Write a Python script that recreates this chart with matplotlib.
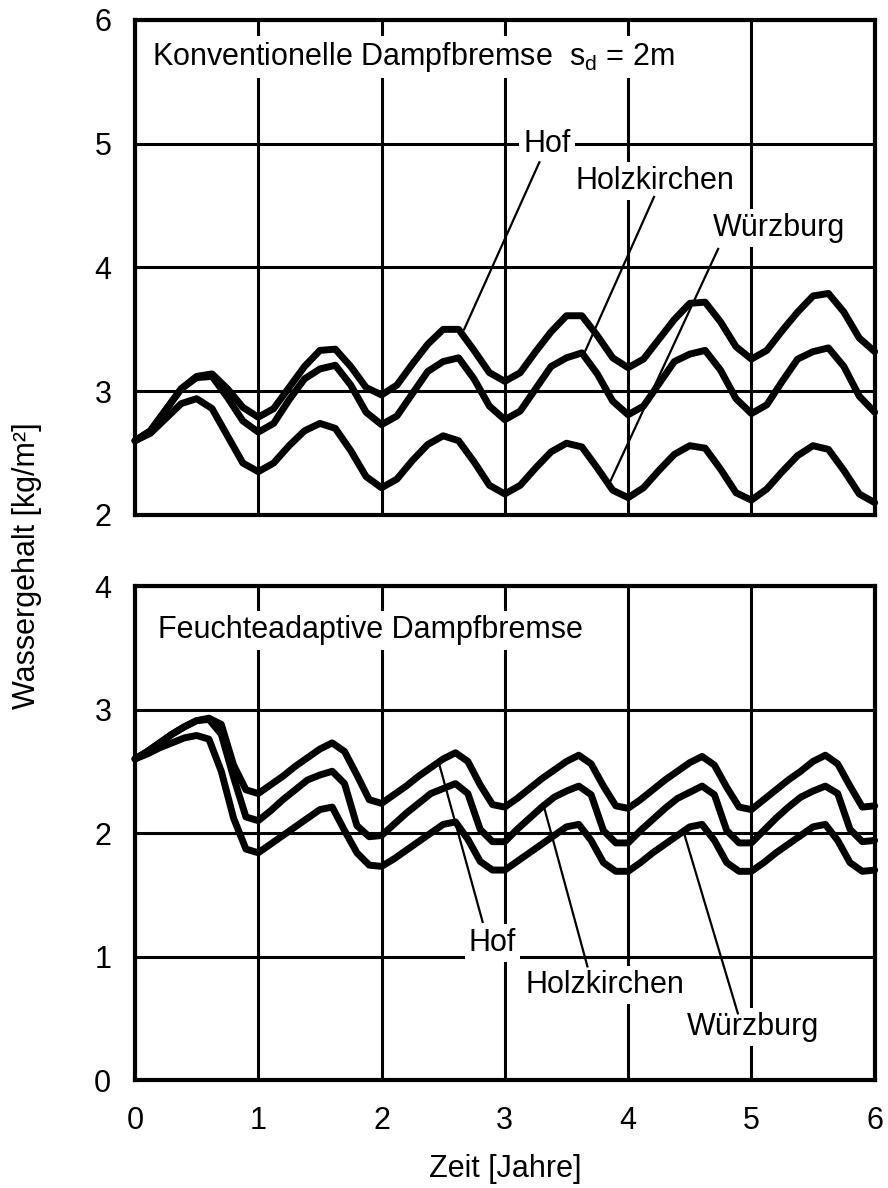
import numpy as np
import matplotlib
matplotlib.use("Agg")
import matplotlib.pyplot as plt

plt.rcParams['font.family'] = ['Liberation Sans', 'DejaVu Sans']
plt.rcParams['mathtext.default'] = 'regular'

# time axis (years)
t_top = np.linspace(0, 6, 49)   # 1/8 year steps
t_bot = np.linspace(0, 6, 61)   # 1/10 year steps

# conventional vapour retarder, sd = 2 m  [kg/m2]
top_hof = [2.60, 2.68, 2.85, 3.02, 3.12, 3.14, 3.02, 2.87,
           2.79, 2.86, 3.03, 3.20, 3.33, 3.34, 3.20, 3.03,
           2.97, 3.05, 3.22, 3.38, 3.50, 3.50, 3.33, 3.15,
           3.08, 3.15, 3.32, 3.48, 3.61, 3.61, 3.45, 3.27,
           3.19, 3.26, 3.42, 3.58, 3.71, 3.72, 3.56, 3.36,
           3.26, 3.33, 3.49, 3.64, 3.77, 3.79, 3.64, 3.43,
           3.32]
top_holz = [2.60, 2.68, 2.85, 3.02, 3.11, 3.12, 2.95, 2.76,
            2.67, 2.74, 2.93, 3.10, 3.18, 3.21, 3.05, 2.83,
            2.73, 2.80, 2.98, 3.16, 3.24, 3.27, 3.10, 2.88,
            2.77, 2.84, 3.02, 3.20, 3.27, 3.31, 3.14, 2.92,
            2.81, 2.88, 3.06, 3.24, 3.30, 3.33, 3.17, 2.94,
            2.82, 2.89, 3.08, 3.26, 3.32, 3.35, 3.20, 2.96,
            2.83]
top_wue = [2.60, 2.66, 2.78, 2.90, 2.94, 2.86, 2.64, 2.42,
           2.35, 2.42, 2.56, 2.68, 2.74, 2.70, 2.52, 2.31,
           2.22, 2.29, 2.44, 2.57, 2.64, 2.60, 2.43, 2.24,
           2.17, 2.24, 2.38, 2.51, 2.58, 2.55, 2.38, 2.20,
           2.14, 2.22, 2.36, 2.49, 2.56, 2.54, 2.37, 2.18,
           2.12, 2.21, 2.35, 2.48, 2.56, 2.53, 2.36, 2.17,
           2.10]

# humidity-variable vapour retarder  [kg/m2]
bot_hof = [2.60, 2.66, 2.73, 2.80, 2.86, 2.91, 2.93, 2.88, 2.55, 2.35,
           2.32, 2.39, 2.46, 2.54, 2.61, 2.68, 2.73, 2.66, 2.47, 2.27,
           2.24, 2.31, 2.38, 2.46, 2.53, 2.60, 2.65, 2.58, 2.39, 2.23,
           2.21, 2.28, 2.36, 2.44, 2.51, 2.58, 2.63, 2.56, 2.38, 2.22,
           2.20, 2.27, 2.35, 2.43, 2.50, 2.57, 2.62, 2.55, 2.37, 2.21,
           2.19, 2.27, 2.35, 2.43, 2.50, 2.58, 2.63, 2.56, 2.38, 2.21,
           2.22]
bot_holz = [2.60, 2.66, 2.73, 2.80, 2.86, 2.91, 2.92, 2.80, 2.45, 2.13,
            2.10, 2.18, 2.27, 2.35, 2.43, 2.47, 2.50, 2.40, 2.06, 1.97,
            1.98, 2.07, 2.16, 2.24, 2.32, 2.36, 2.40, 2.32, 2.03, 1.93,
            1.93, 2.03, 2.12, 2.21, 2.29, 2.34, 2.38, 2.31, 2.02, 1.92,
            1.92, 2.02, 2.11, 2.20, 2.28, 2.33, 2.38, 2.31, 2.02, 1.92,
            1.92, 2.02, 2.12, 2.21, 2.29, 2.34, 2.38, 2.32, 2.03, 1.93,
            1.94]
bot_wue = [2.60, 2.64, 2.69, 2.73, 2.77, 2.79, 2.76, 2.50, 2.12, 1.87,
           1.84, 1.91, 1.98, 2.05, 2.12, 2.19, 2.21, 2.02, 1.84, 1.74,
           1.73, 1.79, 1.86, 1.93, 2.00, 2.07, 2.09, 1.95, 1.77, 1.70,
           1.70, 1.77, 1.84, 1.91, 1.98, 2.05, 2.07, 1.94, 1.76, 1.69,
           1.69, 1.76, 1.84, 1.91, 1.98, 2.05, 2.07, 1.94, 1.76, 1.69,
           1.69, 1.76, 1.84, 1.91, 1.98, 2.05, 2.07, 1.94, 1.76, 1.69,
           1.70]

stations = ['Hof', 'Holzkirchen', 'Würzburg']

fs = 22
box = dict(facecolor='white', edgecolor='none', pad=3)

fig = plt.figure(figsize=(8.88, 11.88), dpi=100)
ax1 = fig.add_axes([0.152, 0.5665, 0.833, 0.4167])
ax2 = fig.add_axes([0.152, 0.0909, 0.833, 0.4158])


def style(ax, ylim, yticks):
    ax.set_xlim(0, 6)
    ax.set_ylim(*ylim)
    ax.set_xticks(range(7))
    ax.set_yticks(yticks)
    ax.grid(True, color='black', lw=2.2)
    ax.tick_params(length=0, labelsize=fs)
    ax.tick_params(axis='x', pad=19)
    ax.tick_params(axis='y', pad=17)
    for s in ax.spines.values():
        s.set_linewidth(3)


def curve(ax, t, y):
    ax.plot(t, y, color='black', lw=5, solid_joinstyle='round',
            solid_capstyle='round', zorder=4, clip_on=False)


style(ax1, (2, 6), [2, 3, 4, 5, 6])
style(ax2, (0, 4), [0, 1, 2, 3, 4])
ax1.tick_params(axis='x', labelbottom=False)

for y in (top_hof, top_holz, top_wue):
    curve(ax1, t_top, y)
for y in (bot_hof, bot_holz, bot_wue):
    curve(ax2, t_bot, y)

ax1.text(0.14, 5.7, 'Konventionelle Dampfbremse  s$_{d}$ = 2m', fontsize=fs,
         va='center', ha='left', bbox=box, zorder=5)
ax2.text(0.19, 3.64, 'Feuchteadaptive Dampfbremse', fontsize=fs,
         va='center', ha='left', bbox=box, zorder=5)

# station labels with leader lines
top_lbl = [(3.34, 5.0), (4.22, 4.7), (5.22, 4.32)]
top_lead = [((3.28, 4.85), (2.67, 3.50)),
            ((4.21, 4.57), (3.65, 3.32)),
            ((4.73, 4.15), (3.85, 2.26))]
bot_lbl = [(2.90, 1.11), (3.81, 0.77), (5.01, 0.43)]
bot_lead = [((2.82, 1.28), (2.47, 2.55)),
            ((3.67, 0.92), (3.31, 2.24)),
            ((4.89, 0.54), (4.45, 2.01))]

for ax, lbls, leads in ((ax1, top_lbl, top_lead), (ax2, bot_lbl, bot_lead)):
    for name, (x, y), (p0, p1) in zip(stations, lbls, leads):
        ax.text(x, y, name, fontsize=fs, ha='center', va='center',
                bbox=box, zorder=5)
        ax.plot([p0[0], p1[0]], [p0[1], p1[1]], color='black', lw=1.6,
                zorder=6)

fig.text(0.03, 0.524, 'Wassergehalt [kg/m²]', fontsize=fs, rotation=90,
         ha='center', va='center')
fig.text(0.569, 0.016, 'Zeit [Jahre]', fontsize=fs, ha='center', va='center')

fig.savefig('out.png', dpi=100)
